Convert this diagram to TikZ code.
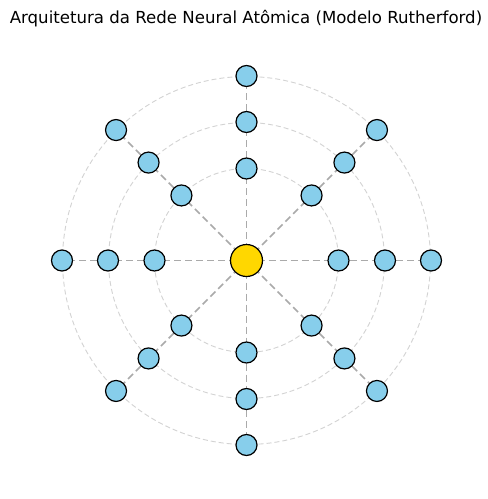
\documentclass[tikz,border=0pt]{standalone}
\usepackage{fontspec}
\setmainfont{DejaVu Sans}
\definecolor{sky}{HTML}{87CEEB}
\definecolor{gold}{HTML}{FFD700}
\definecolor{spoke}{HTML}{AAAAAA}
\definecolor{ring}{HTML}{D3D3D3}
\begin{document}
\begin{tikzpicture}[x=1pt,y=-1pt,
  neuron/.style={circle,draw=black,fill=sky,line width=1.2pt,minimum size=21pt,inner sep=0pt},
  nucleus/.style={circle,draw=black,fill=gold,line width=1.2pt,minimum size=32pt,inner sep=0pt},
  spokeline/.style={draw=spoke,line width=1.6pt,dash pattern=on 7pt off 4pt},
  ringline/.style={draw=ring,line width=0.9pt,dash pattern=on 5pt off 3pt}]
\useasboundingbox (0,0) rectangle (488,499);
\fill[white] (0,0) rectangle (488,499);
\node[font=\fontsize{16.6}{20}\selectfont,anchor=base] (title) at (246,23) {Arquitetura da Rede Neural Atômica (Modelo Rutherford)};
\coordinate (c) at (246.5,260.5);
\foreach \r in {92,138,184} \draw[ringline] (c) circle (\r);
\foreach \k in {0,...,7} {
  \pgfmathsetmacro{\ang}{45*\k}
  \coordinate (p1\k) at ([shift={(\ang:92)}]c);
  \coordinate (p2\k) at ([shift={(\ang:138.5)}]c);
  \coordinate (p3\k) at ([shift={(\ang:184.5)}]c);
}
\foreach \k in {0,...,7} {
  \draw[spokeline] (c) -- (p1\k);
  \draw[spokeline] (p1\k) -- (p2\k);
  \draw[spokeline] (p2\k) -- (p3\k);
}
\node[nucleus] (n0) at (c) {};
\foreach \k in {0,...,7} {
  \node[neuron] (a\k) at (p1\k) {};
  \node[neuron] (b\k) at (p2\k) {};
  \node[neuron] (d\k) at (p3\k) {};
}
\end{tikzpicture}
\end{document}
